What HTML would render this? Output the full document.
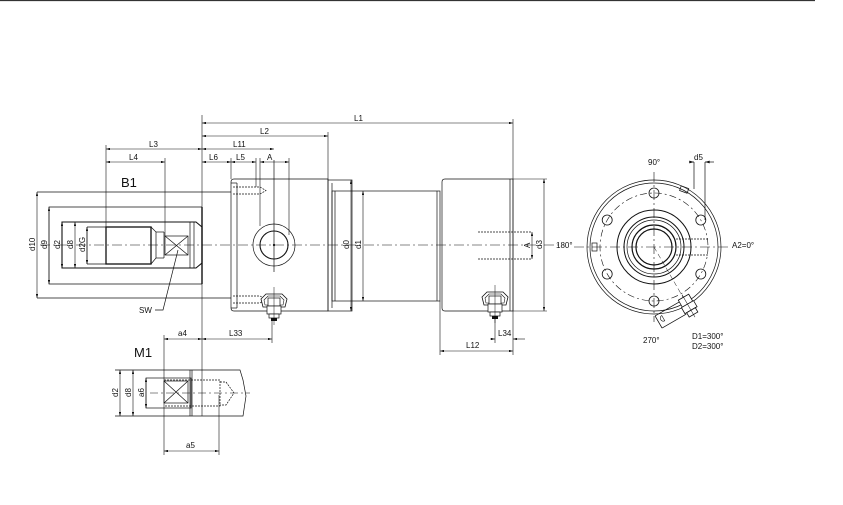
<!DOCTYPE html>
<html><head><meta charset="utf-8"><style>
html,body{margin:0;padding:0;background:#fff;width:843px;height:505px;overflow:hidden}
svg{display:block}
text{font-family:"Liberation Sans",Arial,sans-serif;font-size:8px;fill:#111}
</style></head><body>
<svg width="843" height="505" viewBox="0 0 843 505" xmlns="http://www.w3.org/2000/svg">
<defs>
<marker id="a" viewBox="0 0 10 6" refX="10" refY="3" markerWidth="7" markerHeight="4" orient="auto-start-reverse"><path d="M0,0L10,3L0,6z" fill="#111"/></marker>
<g id="nut">
 <path d="M-13,-6 L-8,-11 L8,-11 L13,-6 L11,2 L-11,2 Z" fill="#fff" stroke="#111" stroke-width="0.8"/>
 <path d="M-10,-5 L-6,-9 L6,-9 L10,-5 L9,0 L-9,0Z" fill="none" stroke="#111" stroke-width="0.6"/>
 <rect x="-6" y="-7" width="12" height="8" fill="#fff" stroke="#111" stroke-width="0.7"/>
 <rect x="-7" y="1" width="14" height="8" fill="#fff" stroke="#111" stroke-width="0.7"/>
 <rect x="-5" y="9" width="10" height="4" fill="#fff" stroke="#111" stroke-width="0.7"/>
 <rect x="-3" y="13" width="6" height="3" fill="#111"/>
 <line x1="0" y1="-18" x2="0" y2="20" stroke="#111" stroke-width="0.5"/>
</g>
</defs>
<line x1="0" y1="0.5" x2="815" y2="0.5" stroke="#333" stroke-width="1.3"/>

<g stroke="#111" fill="none" stroke-width="0.7">
<line x1="40" y1="245" x2="560" y2="245" stroke-dasharray="10,3,2,3" stroke-width="0.6"/>
<polyline points="231,192 37,192"/><polyline points="37,298 231,298"/>
<path d="M202,207 H49 V284 H202"/>
<line x1="202" y1="207" x2="202" y2="284" stroke-width="1.4"/>
<path d="M202,227 L196,222 H62 V268 H196 L202,263 Z" stroke-width="1.1"/>
<line x1="194" y1="222" x2="194" y2="268"/>
<line x1="190" y1="222" x2="190" y2="268"/>
<line x1="87" y1="227" x2="87" y2="264"/>
<path d="M87,227 H151 L156,232 V258 L151,264 H87" />
<rect x="106" y="227" width="45" height="37" stroke-width="1.3"/>
<line x1="156" y1="232" x2="164" y2="232"/><line x1="156" y1="258" x2="164" y2="258"/>
<line x1="164" y1="232" x2="164" y2="258"/>
<rect x="165" y="236" width="23" height="19"/>
<line x1="165" y1="236" x2="188" y2="255"/><line x1="188" y1="236" x2="165" y2="255"/>
<polyline points="178,250 163,310 155,310"/>
<path d="M231,182 Q231,179 234,179 H328 V311 H234 Q231,311 231,308 Z"/>
<line x1="231" y1="183" x2="237" y2="183"/><line x1="237" y1="183" x2="237" y2="308"/>
<line x1="231" y1="308" x2="237" y2="308"/>
<path d="M233,187 H260 M233,194 H260 M260,187 L266,190.5 L260,194" stroke-dasharray="2,1"/>
<path d="M233,296 H260 M233,303 H260 M260,296 L266,299.5 L260,303" stroke-dasharray="2,1"/>
<circle cx="274" cy="245" r="21"/><circle cx="274" cy="245" r="14" stroke-width="1.1"/>
<line x1="274" y1="160" x2="274" y2="272"/>
<circle cx="274" cy="245" r="0.8" fill="#111"/>
<rect x="328" y="180" width="24" height="131"/>
<line x1="332" y1="183" x2="332" y2="308"/>
<rect x="332" y="191" width="108" height="110"/>
<line x1="335" y1="191" x2="335" y2="301"/>
<line x1="437" y1="191" x2="437" y2="301"/>
<path d="M445,179 H513 V311 H445 Q442,311 442,308 V182 Q442,179 445,179Z"/>
<line x1="510" y1="179" x2="510" y2="311"/>
<path d="M478,232 H532 M478,259 H532" stroke-dasharray="2,1"/>

<g stroke-width="0.6">
<line x1="202" y1="115" x2="202" y2="416"/>
<line x1="202" y1="123" x2="513" y2="123" marker-start="url(#a)" marker-end="url(#a)"/>
<line x1="513" y1="119" x2="513" y2="311"/>
<line x1="202" y1="136" x2="328" y2="136" marker-start="url(#a)" marker-end="url(#a)"/>
<line x1="328" y1="132" x2="328" y2="180"/>
<line x1="106" y1="149" x2="202" y2="149" marker-start="url(#a)" marker-end="url(#a)"/>
<line x1="202" y1="149" x2="274" y2="149" marker-start="url(#a)" marker-end="url(#a)"/>
<line x1="106" y1="145" x2="106" y2="227"/>
<line x1="106" y1="162" x2="165" y2="162" marker-start="url(#a)" marker-end="url(#a)"/>
<line x1="165" y1="158" x2="165" y2="236"/>
<line x1="202" y1="162" x2="231" y2="162" marker-start="url(#a)" marker-end="url(#a)"/>
<line x1="231" y1="162" x2="256" y2="162" marker-start="url(#a)" marker-end="url(#a)"/>
<line x1="260" y1="162" x2="289" y2="162" marker-start="url(#a)" marker-end="url(#a)"/>
<line x1="231" y1="158" x2="231" y2="179"/><line x1="256" y1="158" x2="256" y2="187"/>
<line x1="260" y1="158" x2="260" y2="226"/><line x1="289" y1="158" x2="289" y2="235"/>
<line x1="37" y1="192" x2="37" y2="298" marker-start="url(#a)" marker-end="url(#a)"/>
<line x1="49" y1="207" x2="49" y2="284" marker-start="url(#a)" marker-end="url(#a)"/>
<line x1="62" y1="222" x2="62" y2="268" marker-start="url(#a)" marker-end="url(#a)"/>
<line x1="75" y1="222" x2="75" y2="268" marker-start="url(#a)" marker-end="url(#a)"/>
<line x1="87" y1="227" x2="87" y2="264" marker-start="url(#a)" marker-end="url(#a)"/>
<line x1="351" y1="180" x2="351" y2="311" marker-start="url(#a)" marker-end="url(#a)"/>
<line x1="363" y1="191" x2="363" y2="301" marker-start="url(#a)" marker-end="url(#a)"/>
<line x1="513" y1="179" x2="547" y2="179"/><line x1="513" y1="311" x2="547" y2="311"/>
<line x1="544" y1="179" x2="544" y2="311" marker-start="url(#a)" marker-end="url(#a)"/>
<line x1="532" y1="232" x2="532" y2="259" marker-start="url(#a)" marker-end="url(#a)"/>
<line x1="440" y1="301" x2="440" y2="355"/>
<line x1="440" y1="351" x2="513" y2="351" marker-start="url(#a)" marker-end="url(#a)"/>
<line x1="513" y1="311" x2="513" y2="355"/>
<line x1="490" y1="339" x2="495" y2="339" marker-end="url(#a)"/>
<line x1="513" y1="339" x2="525" y2="339" marker-start="url(#a)"/>
<line x1="495" y1="315" x2="495" y2="343"/>
<line x1="164" y1="335" x2="164" y2="455"/>
<line x1="164" y1="339" x2="202" y2="339" marker-start="url(#a)" marker-end="url(#a)"/>
<line x1="202" y1="339" x2="272" y2="339" marker-start="url(#a)" marker-end="url(#a)"/>
<line x1="272" y1="318" x2="272" y2="343"/>
<line x1="164" y1="451" x2="219" y2="451" marker-start="url(#a)" marker-end="url(#a)"/>
<line x1="219" y1="395" x2="219" y2="455"/>
<line x1="120" y1="370" x2="120" y2="416" marker-start="url(#a)" marker-end="url(#a)"/>
<line x1="133" y1="370" x2="133" y2="416" marker-start="url(#a)" marker-end="url(#a)"/>
<line x1="146" y1="378" x2="146" y2="408" marker-start="url(#a)" marker-end="url(#a)"/>
</g>

<path d="M115,370 H240 L243,380 L246,396 L243,416 H115" />
<rect x="146" y="378" width="45" height="30"/>
<line x1="190" y1="370" x2="190" y2="416"/><line x1="192" y1="370" x2="192" y2="416"/>
<rect x="164" y="381" width="24" height="22"/>
<line x1="164" y1="381" x2="188" y2="403"/><line x1="188" y1="381" x2="164" y2="403"/>
<path d="M164,380 H220 V406 H164 M220,382 H226 L234,393 L226,405 H220" stroke-dasharray="2,1"/>
<line x1="150" y1="393" x2="250" y2="393" stroke-dasharray="8,3,2,3" stroke-width="0.5"/>

<g transform="translate(654,247)">
<circle r="67"/><circle r="64"/>
<circle r="54" stroke-dasharray="7,3,2,3" stroke-width="0.6"/>
<circle r="37" stroke-width="1"/><circle r="30" stroke-width="1"/><circle r="27"/><circle r="22" stroke-width="1.2"/><circle r="18" stroke-width="1.2"/>
<line x1="-80" y1="0" x2="75" y2="0" stroke-dasharray="10,3,2,3" stroke-width="0.6"/>
<line x1="0" y1="-75" x2="0" y2="75" stroke-dasharray="10,3,2,3" stroke-width="0.6"/>
<g stroke-width="0.8">
<circle cx="0" cy="-54" r="5"/><circle cx="0" cy="54" r="5"/>
<circle cx="46.8" cy="-27" r="5"/><circle cx="-46.8" cy="-27" r="5"/>
<circle cx="46.8" cy="27" r="5"/><circle cx="-46.8" cy="27" r="5"/>
</g>
<rect x="-62" y="-4" width="5" height="8"/>
<rect x="26" y="-60" width="8" height="5" transform="rotate(20 30 -57)"/>
<path d="M22,-8 H55 M22,8 H55" stroke-dasharray="2,1"/>
<line x1="40" y1="-58" x2="40" y2="-85"/><line x1="51" y1="-27" x2="51" y2="-85"/>
<line x1="35" y1="-85" x2="40" y2="-85" marker-end="url(#a)"/>
<line x1="51" y1="-85" x2="60" y2="-85" marker-start="url(#a)"/>
<line x1="0" y1="0" x2="34" y2="58.9" stroke-dasharray="5,3" stroke-width="0.5"/>
</g>
<g transform="translate(688,305) rotate(60)" stroke-width="0.8">
<rect x="-9" y="-6" width="8" height="12" fill="#fff"/>
<rect x="-1" y="-7" width="7" height="14" fill="#fff"/>
<rect x="6" y="-5" width="5" height="10" fill="#fff"/>
<line x1="-12" y1="0" x2="14" y2="0" stroke-width="0.5"/>
<path d="M-7,6 V34 M7,6 V34 M-7,34 H7"/>
<path d="M-4,28 A3,3 0 1 0 2,28 Z" stroke-width="0.6"/>
</g>
</g>

<g transform="translate(274,305)"><use href="#nut"/></g>
<g transform="translate(495,303)"><use href="#nut"/></g>

<text x="354" y="121">L1</text>
<text x="260" y="134">L2</text>
<text x="149" y="147">L3</text>
<text x="233" y="147">L11</text>
<text x="129" y="160">L4</text>
<text x="209" y="160">L6</text>
<text x="236" y="160">L5</text>
<text x="267" y="160">A</text>
<text x="121" y="187" style="font-size:13px">B1</text>
<text x="139" y="313">SW</text>
<text x="134" y="357" style="font-size:13px">M1</text>
<text x="178" y="336">a4</text>
<text x="229" y="336">L33</text>
<text x="186" y="448">a5</text>
<text x="466" y="348">L12</text>
<text x="498" y="336">L34</text>
<g style="font-size:8px">
<text transform="translate(35,251) rotate(-90)">d10</text>
<text transform="translate(47,249) rotate(-90)">d9</text>
<text transform="translate(60,249) rotate(-90)">d2</text>
<text transform="translate(73,249) rotate(-90)">d8</text>
<text transform="translate(85,252) rotate(-90)">d2G</text>
<text transform="translate(349,249) rotate(-90)">d0</text>
<text transform="translate(361,249) rotate(-90)">d1</text>
<text transform="translate(530,248) rotate(-90)">A</text>
<text transform="translate(542,249) rotate(-90)">d3</text>
<text transform="translate(118,397) rotate(-90)">d2</text>
<text transform="translate(131,397) rotate(-90)">d8</text>
<text transform="translate(144,397) rotate(-90)">a6</text>
</g>
<text x="648" y="165">90°</text>
<text x="694" y="160">d5</text>
<text x="556" y="248">180°</text>
<text x="732" y="248">A2=0°</text>
<text x="643" y="343">270°</text>
<text x="692" y="339">D1=300°</text>
<text x="692" y="349">D2=300°</text>
</svg>
</body></html>
